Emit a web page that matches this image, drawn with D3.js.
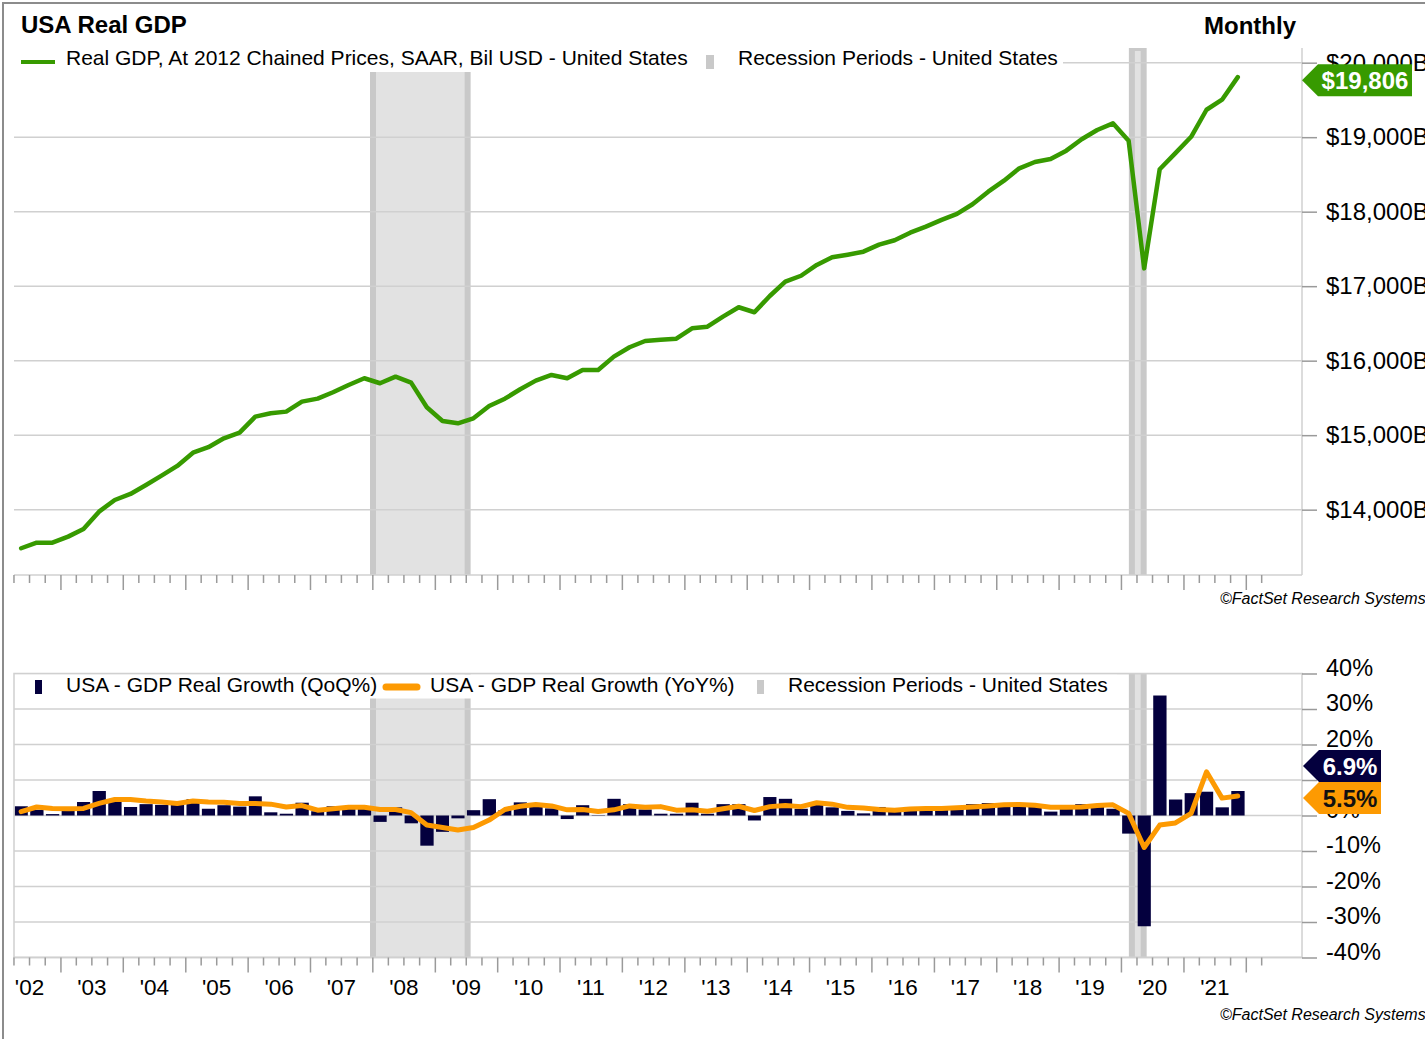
<!DOCTYPE html>
<html>
<head>
<meta charset="utf-8">
<script src="https://cdn.jsdelivr.net/npm/d3@7"></script>
<style>
body { margin: 0; background: #fff; }
svg { display: block; font-family: "Liberation Sans", Arial, sans-serif; }
</style>
</head>
<body>
<div id="chart"></div>
<script>
// quarterly data, first quarter = Q2 2002, last = Q4 2021
const firstQuarter = "2002-04-01";
const lastQuarter = "2021-10-01";

// Real GDP, 2012 chained prices, SAAR, bil USD
const gdp = [
    13482, 13557, 13557,
    13638, 13741, 13973, 14130,
    14211, 14331, 14456, 14587,
    14765, 14838, 14958, 15034,
    15249, 15295, 15316, 15450,
    15490, 15576, 15674, 15764,
    15697, 15785, 15705, 15374,
    15190, 15159, 15226, 15391,
    15490, 15616, 15732, 15808,
    15764, 15875, 15875, 16054,
    16180, 16264, 16280, 16295,
    16435, 16456, 16591, 16717,
    16650, 16868, 17060, 17140,
    17285, 17388, 17423, 17463,
    17557, 17616, 17718, 17799,
    17889, 17970, 18100, 18268,
    18416, 18582, 18667, 18707,
    18819, 18972, 19096, 19186,
    18953, 17239, 18570, 18785,
    19005, 19368, 19503, 19806
];

// GDP real growth QoQ% (annualized)
const qoq = [
    2.6, 1.6, 0.4,
    1.8, 3.8, 6.9, 4.6,
    2.4, 3.2, 3.0, 3.2,
    4.6, 1.9, 2.9, 2.5,
    5.4, 0.9, 0.5, 3.6,
    1.2, 2.6, 2.4, 2.4,
    -1.8, 2.3, -2.2, -8.5,
    -4.6, -0.8, 1.5, 4.6,
    1.5, 3.7, 3.0, 2.0,
    -1.0, 2.9, -0.1, 4.7,
    3.2, 1.7, 0.5, 0.5,
    3.6, 0.5, 3.2, 3.2,
    -1.4, 5.2, 4.7, 1.9,
    3.3, 2.3, 1.3, 0.6,
    2.4, 1.2, 2.4, 2.0,
    2.3, 2.2, 3.2, 3.5,
    2.5, 3.5, 2.9, 1.1,
    2.4, 3.2, 2.8, 1.9,
    -5.1, -31.2, 33.8, 4.5,
    6.3, 6.7, 2.3, 6.9
];

// GDP real growth YoY%
const yoy = [
    1.1, 2.4, 2.0,
    1.9, 2.0, 3.4, 4.5,
    4.5, 4.1, 3.8, 3.4,
    4.1, 3.8, 3.7, 3.4,
    3.4, 3.2, 2.4, 2.8,
    1.5, 1.9, 2.3, 2.3,
    1.7, 1.7, 0.8, -2.7,
    -3.4, -4.1, -3.4, -1.3,
    1.7, 2.6, 3.1, 2.7,
    1.6, 1.7, 1.1, 1.6,
    2.7, 2.3, 2.5, 1.5,
    1.6, 1.2, 1.9, 2.6,
    1.4, 2.5, 2.8, 2.5,
    3.6, 3.2, 2.3, 2.1,
    1.7, 1.5, 1.8, 2.0,
    2.0, 2.2, 2.4, 2.7,
    3.0, 3.1, 2.9, 2.3,
    2.3, 2.4, 2.8, 3.0,
    0.6, -9.0, -2.7, -2.1,
    0.6, 12.3, 4.9, 5.5
];

const recessions = [["2008-01-05", "2009-07-12"], ["2020-03-05", "2020-05-13"]];
const gdpTicks = [14000, 15000, 16000, 17000, 18000, 19000, 20000];
const pctTicks = [-40, -30, -20, -10, 0, 10, 20, 30, 40];
const years = [2002, 2003, 2004, 2005, 2006, 2007, 2008, 2009, 2010, 2011,
               2012, 2013, 2014, 2015, 2016, 2017, 2018, 2019, 2020, 2021];

// colours
const green = "#379a00";
const navy = "#04003e";
const orange = "#fd9a02";
const gridCol = "#d0d0d0";
const tickCol = "#9a9a9a";
const bandFill = "#e2e2e2";
const bandEdge = "#c9c9c9";

const W = 1425, H = 1039;
const pl = 14, pr = 1302;
const top1 = 48, bot1 = 575;
const top2 = 673.5, bot2 = 957.5;

const parse = d3.timeParse("%Y-%m-%d");
const qStarts = d3.timeMonth.every(3).range(parse(firstQuarter), d3.timeDay.offset(parse(lastQuarter), 1));
const qMid = qStarts.map(d => d3.timeDay.offset(d, 45));
const qEnd = qStarts.map(d => d3.timeMonth.offset(d, 3));

const svg = d3.select("#chart").append("svg")
    .attr("width", W)
    .attr("height", H);

svg.append("rect").attr("width", W).attr("height", H).attr("fill", "#fff");
// outer frame
svg.append("rect")
    .attr("x", 3).attr("y", 3)
    .attr("width", 1600).attr("height", 1200)
    .attr("fill", "none")
    .attr("stroke", "#8c8c8c")
    .attr("stroke-width", 2);

const x = d3.scaleTime()
    .domain([new Date(2002, 0, 1), new Date(2022, 0, 1)])
    .range([-1.9, 1245.8]);
const yGdp = d3.scaleLinear().domain([13123, 20197]).range([bot1, top1]);
const yPct = d3.scaleLinear().domain([-40, 40]).range([bot2, top2]);

const defs = svg.append("defs");
defs.append("clipPath").attr("id", "clip1").append("rect")
    .attr("x", pl).attr("y", top1).attr("width", pr - pl).attr("height", bot1 - top1);
defs.append("clipPath").attr("id", "clip2").append("rect")
    .attr("x", pl).attr("y", top2).attr("width", pr - pl).attr("height", bot2 - top2);

function bands(g, y0, y1) {
    g.selectAll("rect.band")
        .data(recessions)
        .enter().append("rect")
        .attr("class", "band")
        .attr("x", d => x(parse(d[0])))
        .attr("width", d => x(parse(d[1])) - x(parse(d[0])))
        .attr("y", y0)
        .attr("height", y1 - y0)
        .attr("fill", bandFill)
        .attr("stroke", bandEdge)
        .attr("stroke-width", 6);
}

function quarterAxes(g, y) {
    const minor = d3.timeMonth.every(3).range(new Date(2002, 3, 1), new Date(2022, 4, 1));
    g.append("line")
        .attr("x1", pl).attr("x2", pr).attr("y1", y).attr("y2", y)
        .attr("stroke", gridCol).attr("stroke-width", 1.5);
    const a1 = g.append("g").attr("transform", `translate(0,${y})`)
        .call(d3.axisBottom(x).tickValues(minor.filter(d => d.getMonth() !== 0)).tickSize(8).tickFormat(""));
    const a2 = g.append("g").attr("transform", `translate(0,${y})`)
        .call(d3.axisBottom(x).tickValues(minor.filter(d => d.getMonth() === 0)).tickSize(15).tickFormat(""));
    [a1, a2].forEach(a => {
        a.select(".domain").remove();
        a.selectAll(".tick line").attr("stroke", tickCol).attr("stroke-width", 1.5);
    });
}

function tag(g, x0, x1, cy, fill, textFill, label) {
    const h = 32;
    g.append("path")
        .attr("d", `M${x0},${cy} L${x0 + 16},${cy - h / 2} L${x1},${cy - h / 2} L${x1},${cy + h / 2} L${x0 + 16},${cy + h / 2} Z`)
        .attr("fill", fill);
    g.append("text")
        .attr("x", (x0 + 16 + x1) / 2)
        .attr("y", cy)
        .attr("dy", "0.36em")
        .attr("text-anchor", "middle")
        .attr("font-weight", "bold")
        .attr("font-size", 24)
        .attr("fill", textFill)
        .text(label);
}

// ---------------- top chart ----------------
const g1 = svg.append("g");
const p1 = g1.append("g").attr("clip-path", "url(#clip1)");
bands(p1, top1, bot1 + 3);

p1.selectAll("line.grid")
    .data(gdpTicks)
    .enter().append("line")
    .attr("class", "grid")
    .attr("x1", pl).attr("x2", pr)
    .attr("y1", d => yGdp(d)).attr("y2", d => yGdp(d))
    .attr("stroke", gridCol).attr("stroke-width", 1.5);

// legend box
p1.append("rect").attr("x", pl).attr("y", top1).attr("width", 1063 - pl).attr("height", 24).attr("fill", "#fff");

const gdpLine = d3.line()
    .x((d, i) => x(qMid[i]))
    .y(d => yGdp(d));
p1.append("path")
    .datum(gdp)
    .attr("d", gdpLine)
    .attr("fill", "none")
    .attr("stroke", green)
    .attr("stroke-width", 4.5)
    .attr("stroke-linejoin", "round")
    .attr("stroke-linecap", "round");

// right axis
g1.append("line").attr("x1", pr).attr("x2", pr).attr("y1", top1).attr("y2", bot1)
    .attr("stroke", gridCol).attr("stroke-width", 1.5);
const ax1 = g1.append("g").attr("transform", `translate(${pr},0)`)
    .call(d3.axisRight(yGdp).tickValues(gdpTicks).tickSize(15).tickPadding(9)
        .tickFormat(d => "$" + d3.format(",")(d) + "B"));
ax1.select(".domain").remove();
ax1.selectAll(".tick line").attr("stroke", tickCol).attr("stroke-width", 1.5);
ax1.selectAll(".tick text").attr("font-size", 24).attr("fill", "#000")
    .attr("font-family", "Liberation Sans, Arial, sans-serif");

quarterAxes(g1, bot1);

tag(g1, pr, 1412, yGdp(gdp[gdp.length - 1]) + 3, green, "#fff",
    "$" + d3.format(",")(gdp[gdp.length - 1]));

// title & legend
g1.append("text").attr("x", 21).attr("y", 33).attr("font-size", 24).attr("font-weight", "bold").text("USA Real GDP");
g1.append("text").attr("x", 1296).attr("y", 34).attr("text-anchor", "end").attr("font-size", 24).attr("font-weight", "bold").text("Monthly");
g1.append("line").attr("x1", 21).attr("x2", 55).attr("y1", 62).attr("y2", 62).attr("stroke", green).attr("stroke-width", 4);
g1.append("text").attr("x", 66).attr("y", 65).attr("font-size", 21).text("Real GDP, At 2012 Chained Prices, SAAR, Bil USD - United States");
g1.append("rect").attr("x", 706).attr("y", 55).attr("width", 8).attr("height", 14).attr("fill", bandEdge);
g1.append("text").attr("x", 738).attr("y", 65).attr("font-size", 21).text("Recession Periods - United States");
g1.append("text").attr("x", 1220).attr("y", 604).attr("font-size", 16).attr("font-style", "italic").text("©FactSet Research Systems");

// ---------------- bottom chart ----------------
const g2 = svg.append("g");
const p2 = g2.append("g").attr("clip-path", "url(#clip2)");
bands(p2, top2 - 3, bot2 + 3);

p2.selectAll("line.grid")
    .data(pctTicks)
    .enter().append("line")
    .attr("class", "grid")
    .attr("x1", pl).attr("x2", pr)
    .attr("y1", d => yPct(d)).attr("y2", d => yPct(d))
    .attr("stroke", gridCol).attr("stroke-width", 1.5);

// legend box
p2.append("rect").attr("x", pl).attr("y", top2 + 1).attr("width", 1117 - pl).attr("height", 24).attr("fill", "#fff");

p2.selectAll("rect.bar")
    .data(qoq)
    .enter().append("rect")
    .attr("class", "bar")
    .attr("x", (d, i) => x(qStarts[i]) + 1.2)
    .attr("width", (d, i) => x(qEnd[i]) - x(qStarts[i]) - 2.4)
    .attr("y", d => yPct(Math.max(0, d)))
    .attr("height", d => Math.abs(yPct(d) - yPct(0)))
    .attr("fill", navy);

const yoyLine = d3.line()
    .x((d, i) => x(qMid[i]))
    .y(d => yPct(d));
p2.append("path")
    .datum(yoy)
    .attr("d", yoyLine)
    .attr("fill", "none")
    .attr("stroke", orange)
    .attr("stroke-width", 5)
    .attr("stroke-linejoin", "round")
    .attr("stroke-linecap", "round");

// frame
g2.append("rect").attr("x", pl).attr("y", top2).attr("width", pr - pl).attr("height", bot2 - top2)
    .attr("fill", "none").attr("stroke", gridCol).attr("stroke-width", 1.5);

const ax2 = g2.append("g").attr("transform", `translate(${pr},0)`)
    .call(d3.axisRight(yPct).tickValues(pctTicks).tickSize(15).tickPadding(9)
        .tickFormat(d => d + "%"));
ax2.select(".domain").remove();
ax2.selectAll(".tick line").attr("stroke", tickCol).attr("stroke-width", 1.5);
ax2.selectAll(".tick text").attr("font-size", 23.5).attr("fill", "#000").attr("y", -6)
    .attr("font-family", "Liberation Sans, Arial, sans-serif");

quarterAxes(g2, bot2);

const yearAxis = g2.append("g").attr("transform", `translate(0,${bot2})`)
    .call(d3.axisBottom(x).tickValues(years.map(y => new Date(y, 6, 1))).tickSize(0)
        .tickFormat(d => "'" + d3.timeFormat("%y")(d)));
yearAxis.select(".domain").remove();
yearAxis.selectAll(".tick text").attr("y", 37).attr("dy", 0).attr("font-size", 22.5).attr("fill", "#000")
    .attr("font-family", "Liberation Sans, Arial, sans-serif");

// value tags, stacked so they do not overlap
const lastYoy = yoy[yoy.length - 1], lastQoq = qoq[qoq.length - 1];
const cyYoy = yPct(lastYoy) + 2;
let cyQoq = yPct(lastQoq) + 2;
if (Math.abs(cyQoq - cyYoy) < 32) cyQoq = cyYoy - 32;
tag(g2, 1303, 1381, cyQoq, navy, "#fff", lastQoq.toFixed(1) + "%");
tag(g2, 1303, 1381, cyYoy, orange, "#111", lastYoy.toFixed(1) + "%");

// legend
g2.append("rect").attr("x", 35).attr("y", 680).attr("width", 7).attr("height", 14).attr("fill", navy);
g2.append("text").attr("x", 66).attr("y", 692).attr("font-size", 21).text("USA - GDP Real Growth (QoQ%)");
g2.append("line").attr("x1", 386).attr("x2", 417).attr("y1", 687).attr("y2", 687)
    .attr("stroke", orange).attr("stroke-width", 7).attr("stroke-linecap", "round");
g2.append("text").attr("x", 430).attr("y", 692).attr("font-size", 21).text("USA - GDP Real Growth (YoY%)");
g2.append("rect").attr("x", 757).attr("y", 680).attr("width", 7).attr("height", 14).attr("fill", bandEdge);
g2.append("text").attr("x", 788).attr("y", 692).attr("font-size", 21).text("Recession Periods - United States");
g2.append("text").attr("x", 1220).attr("y", 1020).attr("font-size", 16).attr("font-style", "italic").text("©FactSet Research Systems");
</script>
</body>
</html>
